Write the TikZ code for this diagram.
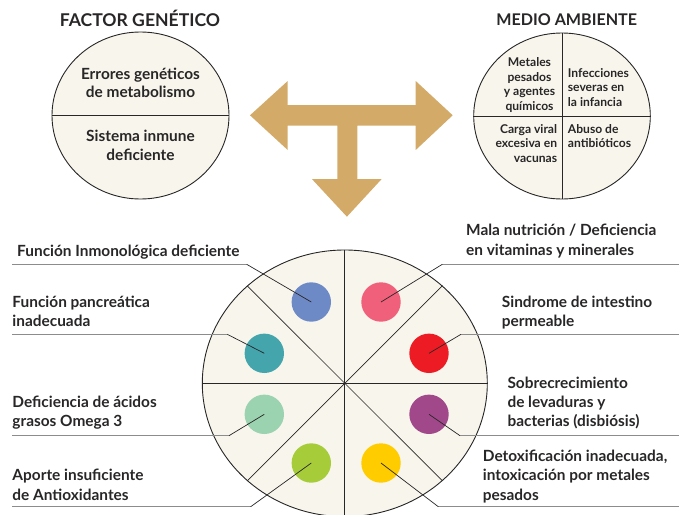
\documentclass[tikz,border=0pt]{standalone}
\usepackage{fontspec}
\setmainfont{Lato}
\usetikzlibrary{shapes.geometric}
\definecolor{arrowc}{RGB}{211,170,104}
\definecolor{cream}{RGB}{248,246,236}
\definecolor{ink}{RGB}{40,38,38}
\definecolor{greyline}{RGB}{140,140,140}
\definecolor{cblue}{RGB}{110,138,198}
\definecolor{cteal}{RGB}{69,165,173}
\definecolor{cpink}{RGB}{240,96,122}
\definecolor{cred}{RGB}{237,28,36}
\definecolor{clgreen}{RGB}{155,210,176}
\definecolor{clime}{RGB}{167,204,58}
\definecolor{cpurple}{RGB}{160,72,138}
\definecolor{cyellow}{RGB}{255,204,0}
\begin{document}
\begin{tikzpicture}[x=1pt,y=-1pt,
  disc/.style={ellipse,draw=ink,line width=0.9pt,fill=cream,inner sep=0pt},
  sector/.style={draw=ink,line width=0.7pt},
  dot/.style={circle,minimum size=39.4pt,inner sep=0pt},
  leader/.style={draw=ink,line width=0.7pt},
  greyrule/.style={draw=greyline,line width=1.3pt},
  heading/.style={inner sep=0pt,text=ink,font=\fontsize{17.6}{20}\selectfont\bfseries},
  label/.style={inner sep=0pt,text=ink,align=left,font=\fontsize{15.4}{19.3}\selectfont\bfseries},
  intext/.style={inner sep=0pt,text=ink,align=center,font=\fontsize{15.4}{18.3}\selectfont\bfseries},
  smalltext/.style={inner sep=0pt,text=ink,font=\fontsize{12.1}{14.4}\selectfont\bfseries}]
\useasboundingbox (0,0) rectangle (679,514);
% arrow
\fill[arrowc] (250,115.3) -- (287.7,81) -- (287.7,105) -- (415.7,105) -- (415.7,81)
  -- (452.7,115.3) -- (415.7,150) -- (415.7,125.7) -- (357.3,125.7) -- (357.3,179)
  -- (381.7,179) -- (346.9,216.7) -- (311.9,179) -- (337.3,179) -- (337.3,125.7)
  -- (287.7,125.7) -- (287.7,150) -- cycle;
% headings
\node[heading,anchor=base] (h1) at (140,26.7) {FACTOR GENÉTICO};
\node[heading,anchor=base,font=\fontsize{16.1}{20}\selectfont\bfseries] (h2) at (566.7,25) {MEDIO AMBIENTE};
% genetic disc
\node[disc,minimum width=177pt,minimum height=167pt] (gen) at (140.5,115.5) {};
\draw[sector] (gen.west) -- (gen.east);
\node[intext,anchor=base] (g1) at (140.5,97.3) {Errores genéticos\\de metabolismo};
\node[intext,anchor=base] (g2) at (140.5,160) {Sistema inmune\\deficiente};
% environment disc
\node[disc,minimum width=176.6pt,minimum height=166pt] (amb) at (562,116) {};
\draw[sector] (amb.north) -- (amb.south);
\draw[sector] (amb.west) -- (amb.east);
\node[smalltext,align=center,anchor=base] (a1) at (529.5,110) {Metales\\pesados\\y agentes\\químicos};
\node[smalltext,align=left,anchor=base west] (a2) at (567.7,106) {Infecciones\\severas en\\la infancia};
\node[smalltext,align=right,anchor=base east] (a3) at (557.3,162.3) {Carga viral\\excesiva en\\vacunas};
\node[smalltext,align=left,anchor=base west] (a4) at (567.7,147.7) {Abuso de\\antibióticos};
% big disc
\node[disc,minimum width=285pt,minimum height=266.6pt] (big) at (344.8,383.3) {};
\draw[sector] (big.north) -- (big.south);
\draw[sector] (big.west) -- (big.east);
\draw[sector] (big.135) -- (big.315);
\draw[sector] (big.45) -- (big.225);
% dots
\node[dot,fill=cblue] (d1) at (311.3,302) {};
\node[dot,fill=cteal] (d2) at (264.3,353.3) {};
\node[dot,fill=clgreen] (d3) at (264.3,414.3) {};
\node[dot,fill=clime] (d4) at (311.3,463) {};
\node[dot,fill=cpink] (d5) at (381,302) {};
\node[dot,fill=cred] (d6) at (429,353.3) {};
\node[dot,fill=cpurple] (d7) at (429,414.3) {};
\node[dot,fill=cyellow] (d8) at (381,463) {};
% elbows and rule ends
\coordinate (e1) at (246.7,264.3); \coordinate (f1) at (12,264.3);
\coordinate (e2) at (227.3,334.3); \coordinate (f2) at (12,334.3);
\coordinate (e3) at (229,435.7);   \coordinate (f3) at (12,435.7);
\coordinate (e4) at (250.7,506.7); \coordinate (f4) at (12,506.7);
\coordinate (e5) at (442.3,264.3); \coordinate (f5) at (679,264.3);
\coordinate (e6) at (461,334.3);   \coordinate (f6) at (679,334.3);
\coordinate (e7) at (460,435.7);   \coordinate (f7) at (679,435.7);
\coordinate (e8) at (438.3,506.7); \coordinate (f8) at (679,506.7);
\foreach \i in {1,...,8} {
  \draw[greyrule] (e\i) -- (f\i);
  \draw[leader] (d\i.center) -- (e\i);
}
% labels
\node[label,anchor=base west] (l1) at (17,256) {Función Inmonológica deficiente};
\node[label,anchor=base west] (l2) at (12.3,326.7) {Función pancreática\\inadecuada};
\node[label,anchor=base west] (l3) at (12.3,426.7) {Deficiencia de ácidos\\grasos Omega 3};
\node[label,anchor=base west] (l4) at (12.3,500) {Aporte insuficiente\\de Antioxidantes};
\node[label,anchor=base west] (r1) at (466,255) {Mala nutrición / Deficiencia\\en vitaminas y minerales};
\node[label,anchor=base west] (r2) at (501.7,326.7) {Sindrome de intestino\\permeable};
\node[label,anchor=base west] (r3) at (507.3,426.7) {Sobrecrecimiento\\de levaduras y\\bacterias (disbiósis)};
\node[label,anchor=base west] (r4) at (482.7,500) {Detoxificación inadecuada,\\intoxicación por metales\\pesados};
\end{tikzpicture}
\end{document}
